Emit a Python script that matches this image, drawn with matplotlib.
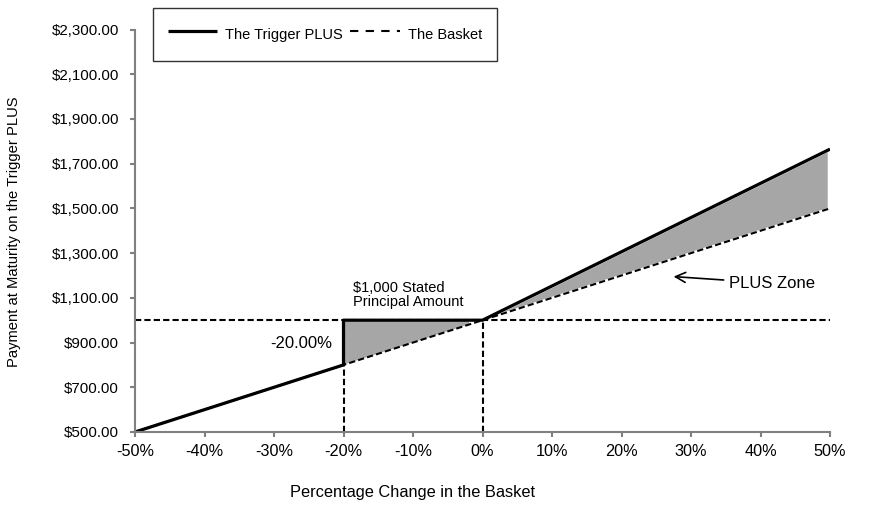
import numpy as np
import matplotlib.pyplot as plt

plt.rcParams['font.family'] = ['Liberation Sans', 'DejaVu Sans']

# data
pct = [-50, -20, -20, 0, 50]              # % change in the basket
plus_pay = [500, 800, 1000, 1000, 1765]   # Trigger PLUS payment
basket_x = [-50, 50]
basket_pay = [500, 1500]
principal = 1000
trigger = -20
yticks = [500, 700, 900, 1100, 1300, 1500, 1700, 1900, 2100, 2300]
xticks = [-50, -40, -30, -20, -10, 0, 10, 20, 30, 40, 50]

fig = plt.figure(figsize=(8.85, 5.08), dpi=100)
ax = fig.add_axes([135/885, 1-432/508, (830-135)/885, (432-29.5)/508])

grey = '#a6a6a6'
dash = (3, 1.5)
# shaded zones
xa = np.linspace(trigger, -2, 50)
ax.fill_between(xa, 1000 + xa*10 + 4, principal - 2, color=grey, lw=0)
xb = np.linspace(2, 49.6, 100)
ax.fill_between(xb, 1000 + xb*10 + 8, 1000 + xb*15.3 - 6, color=grey, lw=0)

# reference dashed lines
ax.plot([-50, 50], [principal, principal], color='k', lw=1.5, dashes=dash)
ax.plot([trigger, trigger], [500, principal], color='k', lw=1.5, dashes=dash)
ax.plot([0, 0], [500, principal], color='k', lw=1.5, dashes=dash)

ax.plot(pct, plus_pay, color='k', lw=2.3, label='The Trigger PLUS', solid_capstyle='butt')
ax.plot(basket_x, basket_pay, color='k', lw=1.5, dashes=dash, label='The Basket')

ax.set_xlim(-50, 50)
ax.set_ylim(500, 2300)
ax.set_xticks(xticks)
ax.set_xticklabels([f'{t}%' for t in xticks])
ax.set_yticks(yticks)
ax.set_yticklabels([f'${t:,.2f}' for t in yticks])
ax.tick_params(colors='#808080', labelcolor='k', length=3.6, width=1.5)
ax.tick_params(axis='x', labelsize=11.7, pad=5)
ax.tick_params(axis='y', labelsize=10.9, pad=8)
for s in ['top', 'right']:
    ax.spines[s].set_visible(False)
for s in ['left', 'bottom']:
    ax.spines[s].set_color('#808080')
    ax.spines[s].set_linewidth(1.5)

ax.text(-26.1, 898, '-20.00%', fontsize=12, ha='center', va='center')
ax.text(-18.6, 1050, '$1,000 Stated\nPrincipal Amount', fontsize=10.5, ha='left', va='bottom', linespacing=1.0)
ax.annotate('PLUS Zone', xy=(27.5, 1195), xytext=(35.5, 1165), fontsize=12,
            va='center', ha='left',
            arrowprops=dict(arrowstyle='->', color='k', lw=1.2, mutation_scale=18, shrinkA=2, shrinkB=0))

leg = fig.legend(loc='upper left', bbox_to_anchor=(153/885, 1-8/508), ncol=2,
                 frameon=True, fancybox=False, edgecolor='k', fontsize=10.5,
                 handlelength=3.4, columnspacing=0.5, borderpad=1.0, handletextpad=0.55,
                 handleheight=2.1, borderaxespad=0)
leg.get_frame().set_linewidth(1.0)
leg.get_lines()[1].set_dashes((4, 3.5))

fig.text(14/885, 1-232/508, 'Payment at Maturity on the Trigger PLUS', rotation=90,
         ha='center', va='center', fontsize=10.6)
fig.text(412/885, 1-492/508, 'Percentage Change in the Basket', ha='center', va='center', fontsize=11.8)

fig.savefig('out.png', dpi=100)
